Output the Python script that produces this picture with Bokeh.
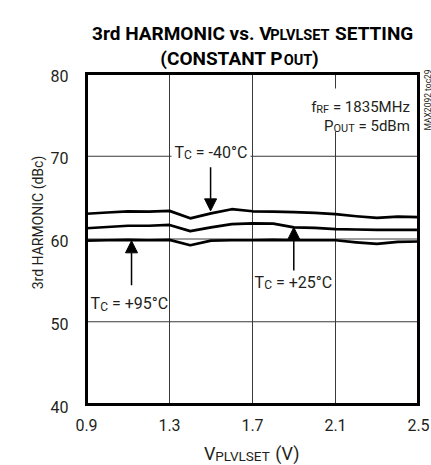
import math
from bokeh.plotting import figure
from bokeh.models import Label, Arrow, NormalHead, BoxAnnotation, Range1d
from bokeh.core.properties import value
from bokeh.embed import file_html
from bokeh.resources import INLINE

# ---------------- data ----------------
v_plvlset = [0.9, 1.0, 1.1, 1.2, 1.3, 1.4, 1.5, 1.6, 1.7, 1.8, 1.9, 2.0, 2.1, 2.2, 2.3, 2.4, 2.5]
harm_tc_m40 = [63.05, 63.2, 63.35, 63.3, 63.4, 62.5, 63.1, 63.6, 63.35, 63.3, 63.25, 63.15, 63.0, 62.75, 62.55, 62.7, 62.65]
harm_tc_p25 = [61.3, 61.45, 61.6, 61.6, 61.7, 60.95, 61.4, 61.8, 61.9, 61.85, 61.4, 61.35, 61.2, 61.15, 61.1, 61.1, 61.1]
harm_tc_p95 = [59.8, 59.85, 59.9, 59.85, 59.9, 59.25, 59.8, 59.85, 59.85, 59.9, 59.85, 59.85, 59.85, 59.6, 59.4, 59.65, 59.7]

x_ticks = [0.9, 1.3, 1.7, 2.1, 2.5]
x_tick_labels = ["0.9", "1.3", "1.7", "2.1", "2.5"]
y_ticks = [40, 50, 60, 70, 80]
y_tick_labels = ["40", "50", "60", "70", "80"]

# ---------------- geometry ----------------
FONT = "Roboto"
INK = "#231f20"
X0, X1, Y0, Y1 = 0.9, 2.5, 40, 80
FL, FR, FT, FB = 86, 418, 73, 404     # plot box edges (px)
W, H = 431, 465                        # figure size


def X(px):
    return X0 + (px - FL) * (X1 - X0) / (FR - FL)


def Y(py):
    return Y1 - (py - FT) * (Y1 - Y0) / (FB - FT)


p = figure(width=W, height=H, title=None,
           x_range=Range1d(X(0), X(W)), y_range=Range1d(Y(H), Y(0)),
           x_axis_location=None, y_axis_location=None,
           output_backend="svg", toolbar_location=None, min_border=0)
p.background_fill_color = "white"
p.border_fill_color = "white"
p.outline_line_color = None
p.xgrid.visible = False
p.ygrid.visible = False

# grid lines at the tick values
p.segment(x0=x_ticks, x1=x_ticks, y0=[Y0] * len(x_ticks), y1=[Y1] * len(x_ticks),
          line_color="#3a3a3a", line_width=1)
p.segment(x0=[X0] * len(y_ticks), x1=[X1] * len(y_ticks), y0=y_ticks, y1=y_ticks,
          line_color="#3a3a3a", line_width=1)

# curves
for ys in (harm_tc_m40, harm_tc_p25, harm_tc_p95):
    p.line(v_plvlset, ys, line_color="black", line_width=2.7, line_join="round")

# plot box
p.quad(left=[X0], right=[X1], bottom=[Y0], top=[Y1], fill_color=None,
       line_color="black", line_width=3, line_join="miter")

# tick labels
p.text(x=x_ticks, y=[Y(424)] * len(x_ticks), text=x_tick_labels,
       text_font=value(FONT), text_font_size="16px", text_color=INK,
       text_align="center", text_baseline="alphabetic")
p.text(x=[X(68)] * len(y_ticks), y=y_ticks, text=y_tick_labels,
       text_font=value(FONT), text_font_size="16px", text_color=INK,
       text_align="right", text_baseline="middle", y_offset=2)

# ---------------- text helpers ----------------
CW = {
    "0": .562, "1": .562, "2": .562, "3": .562, "4": .562, "5": .562, "6": .562, "7": .562,
    "8": .562, "9": .562, ".": .263, " ": .248, "=": .549, "+": .567, "-": .276, "°": .384,
    "(": .342, ")": .348, "A": .652, "B": .622, "C": .653, "D": .657, "E": .568, "F": .553,
    "G": .683, "H": .712, "I": .272, "L": .539, "M": .873, "N": .713, "O": .688, "P": .632,
    "R": .615, "S": .593, "T": .597, "U": .648, "V": .636, "X": .627, "b": .56, "c": .523,
    "d": .561, "f": .347, "m": .876, "o": .57, "r": .338, "s": .516, "t": .327, "v": .483,
    "z": .496,
}


def est(text, size, bold):
    return sum(CW.get(c, .56) for c in text) * size * (1.01 if bold else 1.0)


def put(text, px, py, size, bold=False, align="left", angle=0.0, color=INK):
    p.add_layout(Label(x=X(px), y=Y(py), text=text, text_font=FONT,
                       text_font_size=f"{size}px",
                       text_font_style="bold" if bold else "normal",
                       text_align=align, text_baseline="alphabetic",
                       angle=angle, text_color=color))


def chain(pieces, px, py, align="left", bold=False, color=INK):
    widths = [est(t, s, bold) for t, s, _ in pieces]
    total = sum(widths)
    x = px - total / 2 if align == "center" else (px - total if align == "right" else px)
    for (t, s, dy), w in zip(pieces, widths):
        lead = len(t) - len(t.lstrip(" "))
        put(t.lstrip(" "), x + est(" " * lead, s, bold), py + dy, s, bold=bold, color=color)
        x += w


def white_box(l, r, t, b):
    p.add_layout(BoxAnnotation(left=X(l), right=X(r), top=Y(t), bottom=Y(b),
                               fill_color="white", fill_alpha=1, line_alpha=0))


white_box(171, 250, 150, 162)      # gap in the 70 dBc line behind "TC = -40°C"
white_box(300, 414, 88, 131)       # gap in the 2.1 V line behind the test conditions

# arrows: (x, start, tip) in data units
arrows = [(1.498, 68.68, 63.40), (1.899, 56.2, 61.40), (1.117, 54.4, 59.78)]
for xa, ys_, ye_ in arrows:
    p.add_layout(Arrow(x_start=xa, y_start=ys_, x_end=xa, y_end=ye_, line_width=1.5,
                       line_color="black",
                       end=NormalHead(size=12, fill_color="black", line_color="black", line_width=1)))

# ---------------- texts ----------------
# title
chain([("3rd HARMONIC vs. V", 19, 0), ("PLVLSET", 14.5, 2), (" SETTING", 19, 0)],
      251.7, 33, align="center", bold=True, color="black")
chain([("(CONSTANT P", 19, 0), ("OUT", 14.5, 2), (")", 19, 0)],
      239, 58, align="center", bold=True, color="black")

# x axis label
chain([("V", 18, 0), ("PLVLSET", 13.5, 2), (" (V)", 18, 0)], 251, 453, align="center")

# y axis label
put("3rd HARMONIC (dBc)", 37, 222, 14, align="center", angle=math.pi / 2)

# test conditions
chain([("f", 15, 0), ("RF", 11, 3), (" = 1835MHz", 15, 0)], 409.3, 106, align="right")
chain([("P", 15, 0), ("OUT", 11, 3), (" = 5dBm", 15, 0)], 409.3, 125, align="right")

# temperature labels
chain([("T", 16, 0), ("C", 12, 3), (" = -40°C", 16, 0)], 210.5, 151.5, align="center")
chain([("T", 16, 0), ("C", 12, 3), (" = +25°C", 16, 0)], 293.0, 281.5, align="center")
chain([("T", 16, 0), ("C", 12, 3), (" = +95°C", 16, 0)], 129.0, 303.0, align="center")

# figure id
put("MAX2092 toc29", 427, 130, 8.5, angle=math.pi / 2)

open("out.html", "w").write(file_html(p, INLINE))
